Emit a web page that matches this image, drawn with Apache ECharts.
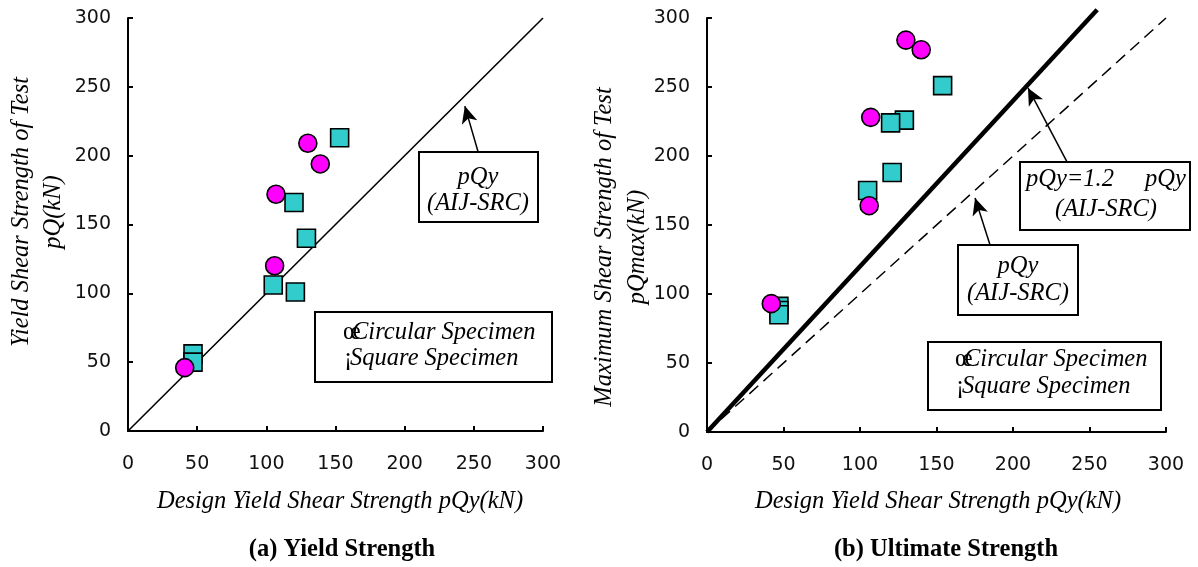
<!DOCTYPE html>
<html>
<head>
<meta charset="utf-8">
<title>Shear Strength</title>
<script src="https://cdn.jsdelivr.net/npm/echarts@6.0.0/dist/echarts.min.js"></script>
<style>
  html, body { margin: 0; padding: 0; background: #fff; }
  #main { width: 1198px; height: 567px; }
</style>
</head>
<body>
<div id="main"></div>
<script>
// (a) yield strength : [design pQy, test pQ]
const yieldCircle = [[41, 46], [106, 120], [107, 172], [130, 209], [139, 194]]
const yieldSquare = [[47, 56], [47, 50], [105, 106], [121, 101], [120, 166], [129, 140], [153, 213]]
// (b) ultimate strength : [design pQy, test pQmax]
const ultSquare = [[47, 91], [47, 88], [47, 85], [105, 175], [121, 188], [129, 226], [120, 224], [154, 251]]
const ultCircle = [[42, 93], [106, 164], [107, 228], [130, 284], [140, 277]]
// reference lines
const lineAIJ = [[0, 0], [300, 300]]
const line12 = [[0, 0], [255, 306]]
// arrows [from, to]
const arrowA = [[253, 203], [243.5, 236]]
const arrowB1 = [[235.3, 195.7], [209.8, 249.3]]
const arrowB2 = [[185, 135.5], [175.2, 169.6]]

const serif = 'Liberation Serif, Times New Roman, serif'
const sans = 'DejaVu Sans, sans-serif'
const fs = 24.5

let myChart = echarts.init(document.getElementById('main'))

function axisX (idx) {
  return {
    gridIndex: idx, type: 'value', min: 0, max: 300, interval: 50,
    axisLine: { onZero: false, lineStyle: { color: '#000', width: 2 } },
    axisTick: { inside: true, length: 5, lineStyle: { color: '#000', width: 2 } },
    axisLabel: { color: '#111', fontFamily: sans, fontSize: 19, margin: 24 },
    splitLine: { show: false }
  }
}
function axisY (idx) {
  return {
    gridIndex: idx, type: 'value', min: 0, max: 300, interval: 50,
    axisLine: { show: true, onZero: false, lineStyle: { color: '#000', width: 2 } },
    axisTick: { show: true, inside: true, length: 5, lineStyle: { color: '#000', width: 2 } },
    axisLabel: { color: '#111', fontFamily: sans, fontSize: 19, margin: 17 },
    splitLine: { show: false }
  }
}
function arrow (pair) {
  return {
    silent: true,
    symbol: ['none', 'arrow'],
    symbolSize: [12, 17],
    label: { show: false },
    lineStyle: { color: '#000', width: 1.5, type: 'solid' },
    data: [[{ coord: pair[0] }, { coord: pair[1] }]]
  }
}
function scatter (idx, data, shape, color) {
  return {
    type: 'scatter', xAxisIndex: idx, yAxisIndex: idx, data: data,
    symbol: shape, symbolSize: 18, z: 4,
    itemStyle: { color: color, borderColor: '#000', borderWidth: 1.6, opacity: 1 }
  }
}

function box (x, y, w, h) {
  return { type: 'rect', shape: { x: x, y: y, width: w, height: h },
    style: { fill: '#fff', stroke: '#000', lineWidth: 2 }, z: 10 }
}
function txt (s, x, y, opt) {
  opt = opt || {}
  return { type: 'text', x: x, y: y, rotation: opt.rot || 0, z: 11,
    style: { text: s, x: 0, y: 0, fill: '#000',
      font: (opt.bold ? 'bold ' : (opt.upright ? '' : 'italic ')) + (opt.size || fs) + 'px ' + serif,
      align: opt.align || 'center', verticalAlign: 'middle', lineHeight: opt.lh || 30 } }
}

let option = {
  backgroundColor: '#fff',
  animation: false,
  grid: [
    { left: 128, right: 655, top: 18, bottom: 136 },
    { left: 707, right: 32, top: 18, bottom: 135 }
  ],
  xAxis: [axisX(0), axisX(1)],
  yAxis: [axisY(0), axisY(1)],
  series: [
    {
      type: 'line', xAxisIndex: 0, yAxisIndex: 0, data: lineAIJ, symbol: 'none', z: 2,
      lineStyle: { color: '#000', width: 1.6 }, markLine: arrow(arrowA)
    },
    scatter(0, yieldSquare, 'rect', '#33CCCC'),
    scatter(0, yieldCircle, 'circle', '#FF00FF'),
    {
      type: 'line', xAxisIndex: 1, yAxisIndex: 1, data: lineAIJ, symbol: 'none', z: 2,
      lineStyle: { color: '#000', width: 1.5, type: [12, 7] }, markLine: arrow(arrowB2)
    },
    {
      type: 'line', xAxisIndex: 1, yAxisIndex: 1, data: line12, symbol: 'none', z: 2, clip: false,
      lineStyle: { color: '#000', width: 4.5 }, markLine: arrow(arrowB1)
    },
    scatter(1, ultSquare, 'rect', '#33CCCC'),
    scatter(1, ultCircle, 'circle', '#FF00FF')
  ],
  graphic: [
    // axis titles
    txt('Yield Shear Strength of Test\npQ(kN)', 38, 212, { rot: Math.PI / 2, lh: 32 }),
    txt('Maximum Shear Strength of Test\npQmax(kN)', 621, 247, { rot: Math.PI / 2, lh: 33 }),
    txt('Design Yield Shear Strength pQy(kN)', 340, 502),
    txt('Design Yield Shear Strength pQy(kN)', 938, 502),
    txt('(a) Yield Strength', 342, 550, { bold: true }),
    txt('(b) Ultimate Strength', 946, 550, { bold: true }),
    // (a) annotation
    box(419, 152, 119, 70),
    txt('pQy', 478, 178),
    txt('(AIJ-SRC)', 478, 204),
    // (a) legend
    box(315, 312, 237, 70),
    txt('œ', 343, 333, { align: 'left', upright: true }),
    txt('Circular Specimen', 352, 333, { align: 'left' }),
    txt('¡', 344, 359, { align: 'left', upright: true }),
    txt('Square Specimen', 350, 359, { align: 'left' }),
    // (b) annotations
    box(1020, 162, 170, 68),
    txt('pQy=1.2', 1026, 180, { align: 'left' }),
    txt('pQy', 1145, 180, { align: 'left' }),
    txt('(AIJ-SRC)', 1106, 210),
    box(958, 245, 120, 70),
    txt('pQy', 1018, 267),
    txt('(AIJ-SRC)', 1018, 294),
    // (b) legend
    box(928, 342, 233, 68),
    txt('œ', 955, 360, { align: 'left', upright: true }),
    txt('Circular Specimen', 964, 360, { align: 'left' }),
    txt('¡', 956, 387, { align: 'left', upright: true }),
    txt('Square Specimen', 962, 387, { align: 'left' })
  ]
}
myChart.setOption(option, true)
window.addEventListener('resize', () => { myChart.resize() })
</script>
</body>
</html>
